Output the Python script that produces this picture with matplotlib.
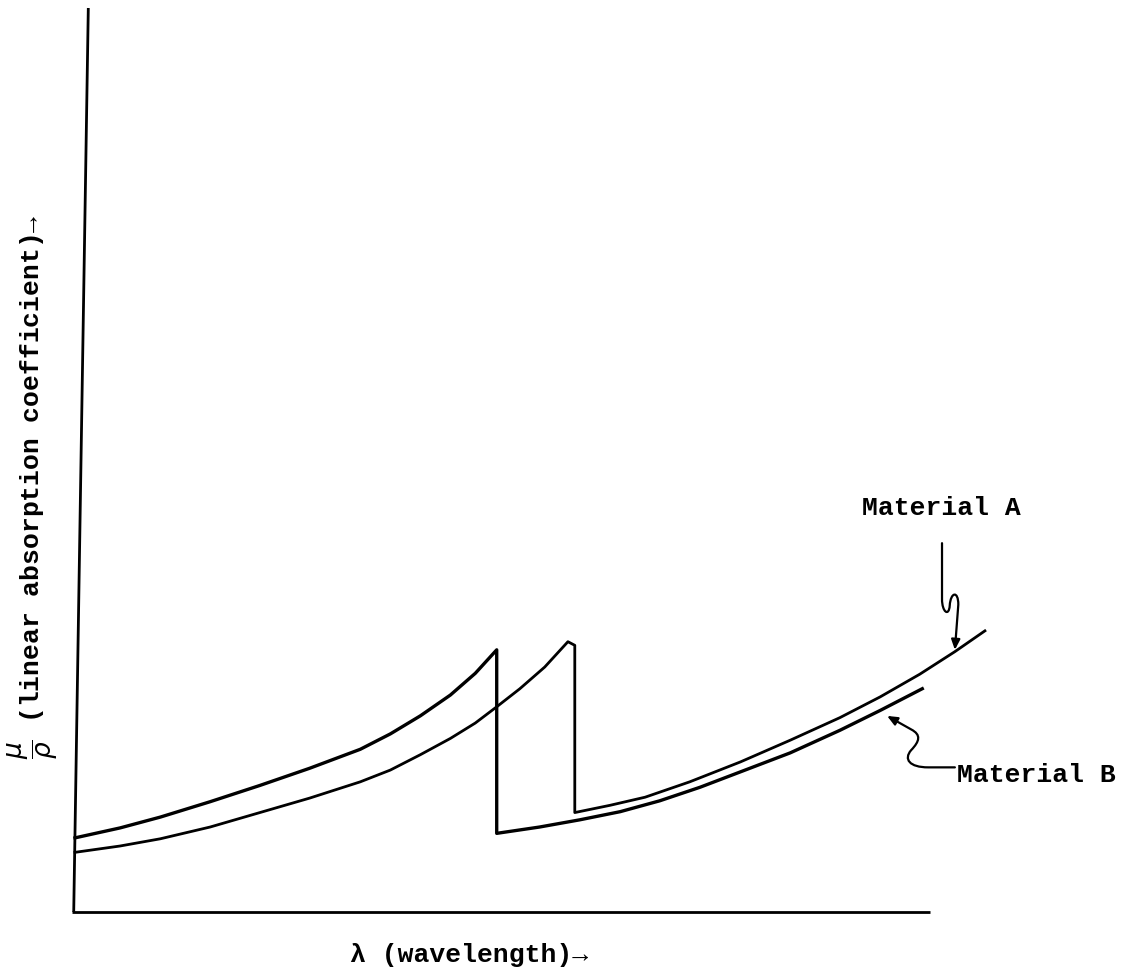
import numpy as np
import matplotlib
matplotlib.use("Agg")
import matplotlib.pyplot as plt
from matplotlib.path import Path
from matplotlib.patches import FancyArrowPatch

# arbitrary units (x = wavelength, y = mu/rho)
# Material A: absorption edge at the longer wavelength
wl_a = [0.35, 5.6, 10.3, 16.1, 21.9, 27.7, 33.6, 37.1, 40.6, 44.1, 47.0, 49.5, 52.2,
        55.1, 57.8, 58.6, 58.6, 62.7, 66.8, 72.0, 77.9, 83.7, 89.5, 94.2, 98.8, 102.9, 106.4]
mu_a = [6.6, 7.3, 8.1, 9.4, 11.0, 12.6, 14.4, 15.7, 17.4, 19.2, 20.9, 22.7, 24.7,
        27.1, 29.9, 29.5, 11.0, 11.8, 12.7, 14.4, 16.6, 19.0, 21.5, 23.8, 26.3, 28.8, 31.1]

# Material B: absorption edge at the shorter wavelength
wl_b = [0.35, 5.6, 10.3, 16.1, 21.9, 27.7, 33.6, 37.1, 40.6, 44.1, 47.0, 49.5,
        49.5, 54.5, 59.2, 63.9, 68.5, 73.2, 77.9, 83.7, 89.5, 94.2, 99.1]
mu_b = [8.2, 9.3, 10.5, 12.2, 14.0, 15.9, 18.0, 19.7, 21.7, 24.0, 26.4, 29.0,
        8.7, 9.4, 10.2, 11.1, 12.3, 13.8, 15.5, 17.6, 20.1, 22.3, 24.7]

x_label = "\u03bb (wavelength)\u2192"
y_label = r"$\dfrac{\mu}{\rho}$ (linear absorption coefficient)" + "\u2192"
label_a = "Material A"
label_b = "Material B"

mono = ["Liberation Mono", "DejaVu Sans Mono"]

fig = plt.figure(figsize=(11.32, 9.75), dpi=100)
# axes box: px 72..930 horizontally, 8..912 vertically
ax = fig.add_axes([72 / 1132, 63 / 975, 858 / 1132, 904 / 975])
ax.set_xlim(0, 100)
ax.set_ylim(0, 100)
ax.axis("off")

# hand drawn axes
ax.plot([0, 100], [0, 0], color="black", lw=2.0, clip_on=False, solid_capstyle="butt")
ax.plot([0.2, 1.9], [0, 100], color="black", lw=2.0, clip_on=False, solid_capstyle="butt")

ax.plot(wl_b, mu_b, color="black", lw=2.4, clip_on=False, solid_joinstyle="round")
ax.plot(wl_a, mu_a, color="black", lw=2.0, clip_on=False, solid_joinstyle="round")

head = "-|>,head_length=6,head_width=2.6"

# squiggly leader for A
tip_a = (102.9, np.interp(102.9, wl_a[16:], mu_a[16:]) + 0.2)
verts_a = [(101.4, 40.8), (101.4, 34.6),
           (101.4, 33.2), (102.2, 32.6), (102.3, 33.9),
           (102.4, 35.4), (103.3, 35.6), (103.3, 34.0),
           tip_a]
codes_a = [Path.MOVETO, Path.LINETO,
           Path.CURVE4, Path.CURVE4, Path.CURVE4,
           Path.CURVE4, Path.CURVE4, Path.CURVE4,
           Path.LINETO]
ax.add_patch(FancyArrowPatch(path=Path(verts_a, codes_a), arrowstyle=head,
                             color="black", lw=1.6, transform=ax.transData, clip_on=False))

# squiggly leader for B
tip_b = (95.0, np.interp(95.0, wl_b[12:], mu_b[12:]) - 1.0)
verts_b = [(102.9, 16.0), (99.8, 16.0),
           (97.6, 16.0), (96.9, 16.9), (97.8, 17.9),
           (98.8, 18.9), (99.0, 19.6), (97.8, 20.2),
           tip_b]
codes_b = [Path.MOVETO, Path.LINETO,
           Path.CURVE4, Path.CURVE4, Path.CURVE4,
           Path.CURVE4, Path.CURVE4, Path.CURVE4,
           Path.LINETO]
ax.add_patch(FancyArrowPatch(path=Path(verts_b, codes_b), arrowstyle=head,
                             color="black", lw=1.6, transform=ax.transData, clip_on=False))

ax.text(92.1, 44.7, label_a, family=mono, fontsize=19, weight="bold",
        ha="left", va="center", clip_on=False)
ax.text(103.2, 15.2, label_b, family=mono, fontsize=19, weight="bold",
        ha="left", va="center", clip_on=False)

fig.text(350 / 1132, 1 - 955 / 975, x_label, family=mono, fontsize=19, weight="bold",
         ha="left", va="center")
fig.text(33 / 1132, 1 - 487 / 975, y_label, family=mono, fontsize=19, weight="bold",
         rotation=90, ha="center", va="center")

fig.savefig("out.png", dpi=100)
